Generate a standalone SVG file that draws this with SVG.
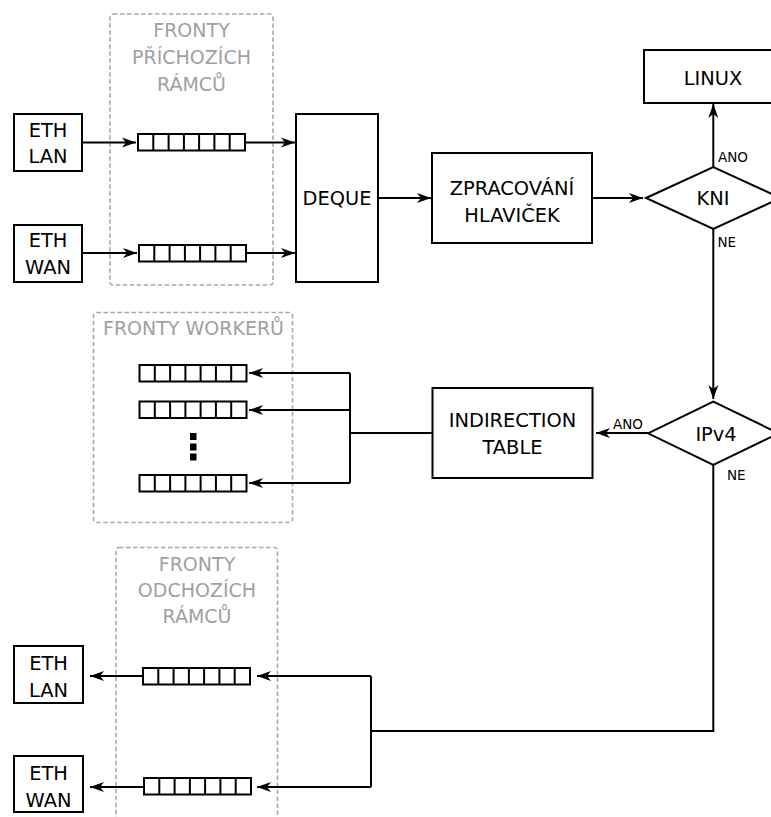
<svg xmlns="http://www.w3.org/2000/svg" xmlns:xlink="http://www.w3.org/1999/xlink" width="771" height="817" viewBox="0 0 771 817">
<style>
.box{fill:#fff;stroke:#000;stroke-width:2}
.grp{fill:none;stroke:#aaa;stroke-width:1.6;stroke-dasharray:4.5 2.5}
.t{font-family:"DejaVu Sans",sans-serif;font-size:19.4px;fill:#000;text-anchor:middle}
.g{font-family:"DejaVu Sans",sans-serif;font-size:19px;fill:#a0a0a0;text-anchor:middle}
.s{font-family:"DejaVu Sans",sans-serif;font-size:13.5px;fill:#000}
.c{fill:none;stroke:#000;stroke-width:2}
.q{fill:#fff;stroke:#000;stroke-width:2}
</style>
<defs>
<marker id="ah" markerUnits="userSpaceOnUse" markerWidth="16" markerHeight="12" viewBox="-15 -6 16 12" refX="0" refY="0" orient="auto">
<path d="M0,0 L-14,-5 L-10,0 L-14,5 Z" fill="#000"/>
</marker>
<g id="queue">
<rect class="q" x="0" y="0" width="107" height="16.5"/>
<path d="M15.3,0V16.5M30.6,0V16.5M45.9,0V16.5M61.1,0V16.5M76.4,0V16.5M91.7,0V16.5" stroke="#000" stroke-width="2"/>
</g>
</defs>
<rect width="771" height="817" fill="#fff"/>

<g id="grp-in">
<rect class="grp" x="110" y="14" width="163" height="271" rx="3"/>
<text class="g" x="191.5" y="37">FRONTY</text>
<text class="g" x="191.5" y="64">PŘÍCHOZÍCH</text>
<text class="g" x="191.5" y="91">RÁMCŮ</text>
</g>
<g id="grp-workers">
<rect class="grp" x="93.5" y="312.5" width="199" height="210" rx="3"/>
<text class="g" x="193.5" y="335">FRONTY WORKERŮ</text>
</g>
<g id="grp-out">
<rect class="grp" x="116" y="547.5" width="161.5" height="280" rx="3"/>
<text class="g" x="197" y="571">FRONTY</text>
<text class="g" x="197" y="597">ODCHOZÍCH</text>
<text class="g" x="197" y="623">RÁMCŮ</text>
</g>

<g id="connectors">
<path class="c" d="M82,142.5H136" marker-end="url(#ah)"/>
<path class="c" d="M245,142.5H295" marker-end="url(#ah)"/>
<path class="c" d="M82,253H137" marker-end="url(#ah)"/>
<path class="c" d="M246,253H295" marker-end="url(#ah)"/>
<path class="c" d="M378,198H431" marker-end="url(#ah)"/>
<path class="c" d="M592,198H643" marker-end="url(#ah)"/>
<path class="c" d="M713.3,167V104" marker-end="url(#ah)"/>
<path class="c" d="M713.3,229V399" marker-end="url(#ah)"/>
<path class="c" d="M648,433H596" marker-end="url(#ah)"/>
<path class="c" d="M432,433H350"/>
<path class="c" d="M350,373V483"/>
<path class="c" d="M350,373H249" marker-end="url(#ah)"/>
<path class="c" d="M350,410H249" marker-end="url(#ah)"/>
<path class="c" d="M350,483H249" marker-end="url(#ah)"/>
<path class="c" d="M713.3,465V731H371"/>
<path class="c" d="M371,676V787"/>
<path class="c" d="M371,676H257" marker-end="url(#ah)"/>
<path class="c" d="M371,787H257" marker-end="url(#ah)"/>
<path class="c" d="M143,676H90" marker-end="url(#ah)"/>
<path class="c" d="M144,787H90" marker-end="url(#ah)"/>
</g>

<g id="q-in-lan"><use xlink:href="#queue" x="138" y="134"/></g>
<g id="q-in-wan"><use xlink:href="#queue" x="139" y="245"/></g>
<g id="q-w1"><use xlink:href="#queue" x="139.5" y="365"/></g>
<g id="q-w2"><use xlink:href="#queue" x="139.5" y="401.5"/></g>
<g id="q-w3"><use xlink:href="#queue" x="139.5" y="475"/></g>
<g id="dots">
<rect x="190" y="433" width="6.5" height="7" fill="#000"/>
<rect x="190" y="443.5" width="6.5" height="7" fill="#000"/>
<rect x="190" y="453.5" width="6.5" height="7" fill="#000"/>
</g>
<g id="q-out-lan"><use xlink:href="#queue" x="143" y="668"/></g>
<g id="q-out-wan"><use xlink:href="#queue" x="144" y="778"/></g>

<g id="eth-lan-in">
<rect class="box" x="14" y="114" width="68" height="57"/>
<text class="t" x="48" y="136.5">ETH</text>
<text class="t" x="48" y="163">LAN</text>
</g>
<g id="eth-wan-in">
<rect class="box" x="14" y="225" width="68" height="57"/>
<text class="t" x="48" y="247">ETH</text>
<text class="t" x="48" y="274">WAN</text>
</g>
<g id="deque">
<rect class="box" x="296" y="114" width="82" height="168"/>
<text class="t" x="337" y="205">DEQUE</text>
</g>
<g id="zprac">
<rect class="box" x="432" y="153" width="160" height="90"/>
<text class="t" x="512" y="194.5">ZPRACOVÁNÍ</text>
<text class="t" x="512" y="221.5">HLAVIČEK</text>
</g>
<g id="linux">
<rect class="box" x="644" y="50" width="140" height="53"/>
<text class="t" x="713" y="85">LINUX</text>
</g>
<g id="kni">
<path class="box" d="M646,198L713.3,167L780.6,198L713.3,229Z"/>
<text class="t" x="713" y="205">KNI</text>
<text class="s" x="718" y="162">ANO</text>
<text class="s" x="717.5" y="247">NE</text>
</g>
<g id="ipv4">
<path class="box" d="M648,433.3L713.3,401.7L778.6,433.3L713.3,465Z"/>
<text class="t" x="716" y="441">IPv4</text>
<text class="s" x="628" y="429" text-anchor="middle">ANO</text>
<text class="s" x="727" y="479.5">NE</text>
</g>
<g id="indirection">
<rect class="box" x="432.5" y="388" width="160" height="90"/>
<text class="t" x="512.5" y="426.5">INDIRECTION</text>
<text class="t" x="512.5" y="454">TABLE</text>
</g>
<g id="eth-lan-out">
<rect class="box" x="14" y="646" width="69" height="57"/>
<text class="t" x="48.5" y="670">ETH</text>
<text class="t" x="48.5" y="697">LAN</text>
</g>
<g id="eth-wan-out">
<rect class="box" x="14" y="756" width="69" height="56"/>
<text class="t" x="48.5" y="780">ETH</text>
<text class="t" x="48.5" y="807">WAN</text>
</g>
</svg>
